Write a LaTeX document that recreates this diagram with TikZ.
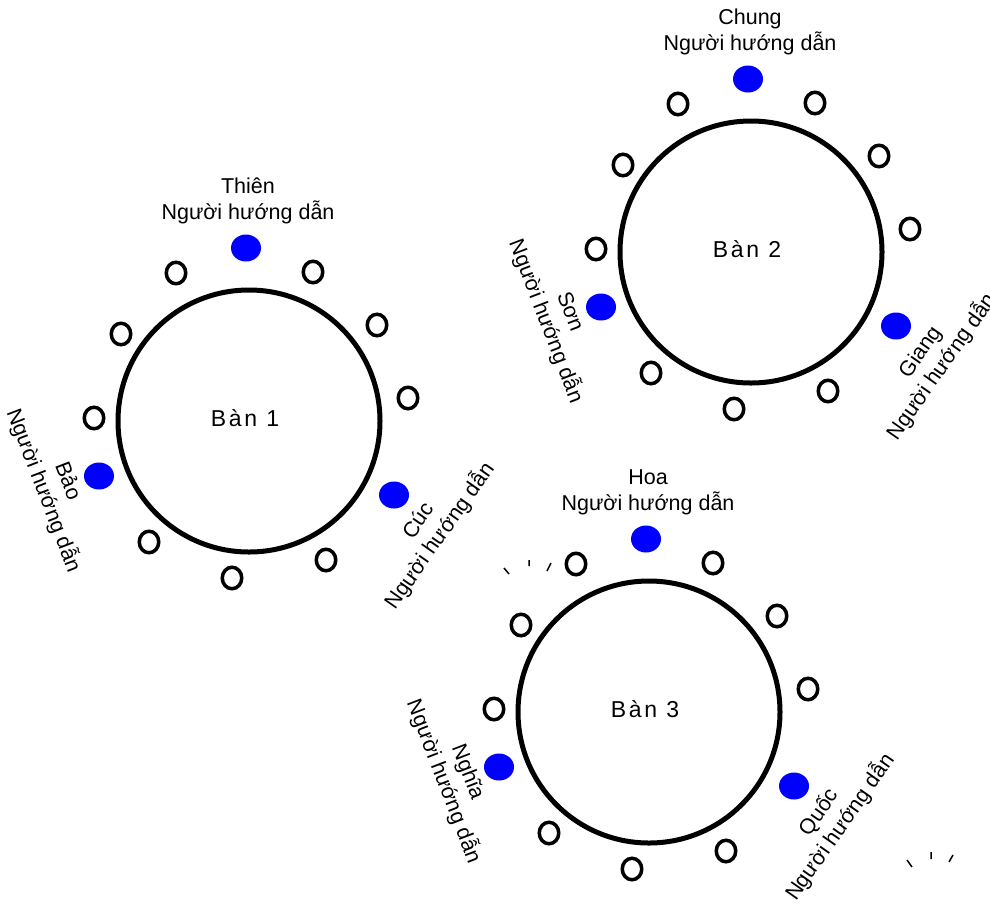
\documentclass[tikz,border=0pt]{standalone}
\usepackage{fontspec}
\setmainfont{Liberation Sans}
\usetikzlibrary{shapes.geometric}

\begin{document}
\begin{tikzpicture}
  [
    x=1pt, y=-1pt,
    every node/.style={font=\fontsize{21.5}{26}\selectfont},
    ban/.style={circle, draw, line width=5pt, minimum size=262pt, inner sep=0pt},
    tenban/.style={font=\fontsize{23}{26}\selectfont\addfontfeature{LetterSpace=12}},
    ghe/.style={ellipse, draw, line width=3.5pt, minimum width=19.5pt, minimum height=21.5pt, inner sep=0pt},
    huongdan/.style={ellipse, fill=blue, minimum width=30pt, minimum height=27pt, inner sep=0pt},
    nhan/.style={align=center, inner sep=0pt}
  ]
  \useasboundingbox (0,0) rectangle (990,903);
  \foreach \n/\cx/\cy/\tren/\trai/\phai in
    {1/249/421/Thiên/Bảo/Cúc, 2/751/252/Chung/Sơn/Giang, 3/649/712/Hoa/Nghĩa/Quốc}
  {
    \begin{scope}[shift={(\cx,\cy)}]
      \node[ban] (ban\n) at (0,0) {};
      \node[tenban] (ten\n) at (-4,-3) {Bàn \n};
      % ghe trong
      \foreach \sx/\sy [count=\k] in
        {-73/-148, 64/-149, -128/-87, 128/-96, -155/-3, 159/-23, -100/121, -17/157, 77/139}
        \node[ghe] (ghe\n-\k) at (\sx,\sy) {};
      % nguoi huong dan
      \node[huongdan] (hd\n-tren) at (-3,-173) {};
      \node[huongdan] (hd\n-trai) at (-150,55) {};
      \node[huongdan] (hd\n-phai) at (145,74) {};
      \node[nhan] (nhan\n-tren) at (-1,-220) {\tren\\Người hướng dẫn};
      \node[nhan, rotate=-69] (nhan\n-trai) at (-194,65) {\trai\\Người hướng dẫn};
      \node[nhan, rotate=55] (nhan\n-phai) at (181,108) {\phai\\Người hướng dẫn};
    \end{scope}
  }
  % vach nho
  \draw[line width=1.5pt] (504,568) -- (509,574) (529,560) -- (529,566) (551,563) -- (547,571);
  \draw[line width=1.5pt] (907,860) -- (912,867) (931,852) -- (931,859) (953,855) -- (949,862);
\end{tikzpicture}
\end{document}
